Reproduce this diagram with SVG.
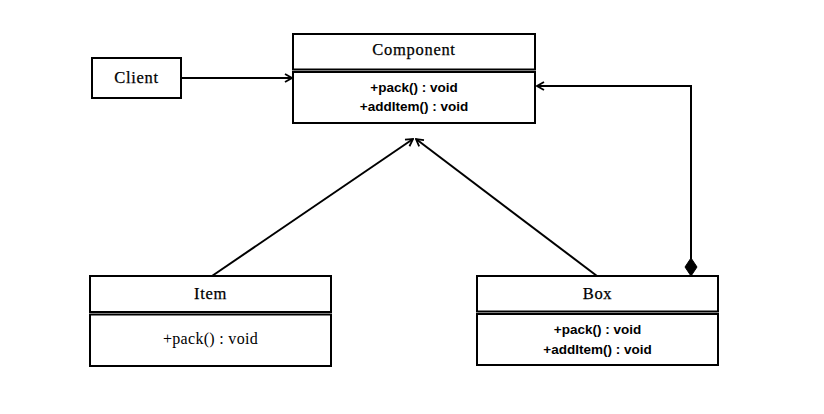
<svg xmlns="http://www.w3.org/2000/svg" width="824" height="414" viewBox="0 0 824 414">
<defs>
<style>
.box{fill:#fff;stroke:#000;stroke-width:2}
.hdr{font-family:"Liberation Serif",serif;font-size:16.5px;letter-spacing:0.7px;text-anchor:middle;fill:#000;stroke:#000;stroke-width:0.25px}
.mth{font-family:"Liberation Sans",sans-serif;font-weight:bold;font-size:13.5px;text-anchor:middle;fill:#000}
.mths{font-family:"Liberation Serif",serif;font-size:16px;letter-spacing:0.3px;text-anchor:middle;fill:#000}
.ln{fill:none;stroke:#000;stroke-width:2}
</style>
<marker id="open" viewBox="0 0 10 10" refX="9" refY="5" markerWidth="10" markerHeight="10" markerUnits="userSpaceOnUse" orient="auto">
<polyline points="2,1 9,5 2,9" fill="none" stroke="#000" stroke-width="1.8"/>
</marker>
</defs>
<rect width="824" height="414" fill="#fff"/>
<g id="connectors">
<line class="ln" x1="181" y1="78" x2="292" y2="78" marker-end="url(#open)"/>
<line class="ln" x1="212" y1="276" x2="413" y2="139" marker-end="url(#open)"/>
<line class="ln" x1="597" y1="276" x2="416" y2="139" marker-end="url(#open)"/>
<polyline class="ln" points="691,259 691,86 537,86" marker-end="url(#open)"/>
<polygon points="691,258 697,267 691,276 685,267" fill="#000" stroke="#000" stroke-width="1"/>
</g>
<g id="client">
<rect class="box" x="92" y="58" width="89" height="40"/>
<text class="hdr" x="136.5" y="83">Client</text>
</g>
<g id="component">
<rect class="box" x="293" y="34" width="242" height="35.5"/>
<rect class="box" x="293" y="72" width="242" height="51"/>
<text class="hdr" x="414" y="55">Component</text>
<text class="mth" x="414" y="92">+pack() : void</text>
<text class="mth" x="414" y="111">+addItem() : void</text>
</g>
<g id="item">
<rect class="box" x="90" y="276" width="241" height="36"/>
<rect class="box" x="90" y="314.5" width="241" height="51.5"/>
<text class="hdr" x="210.5" y="299">Item</text>
<text class="mths" x="210.5" y="344">+pack() : void</text>
</g>
<g id="box">
<rect class="box" x="477" y="276" width="241" height="35.5"/>
<rect class="box" x="477" y="314" width="241" height="51"/>
<text class="hdr" x="597.5" y="299">Box</text>
<text class="mth" x="597.5" y="334">+pack() : void</text>
<text class="mth" x="597.5" y="354">+addItem() : void</text>
</g>
</svg>
